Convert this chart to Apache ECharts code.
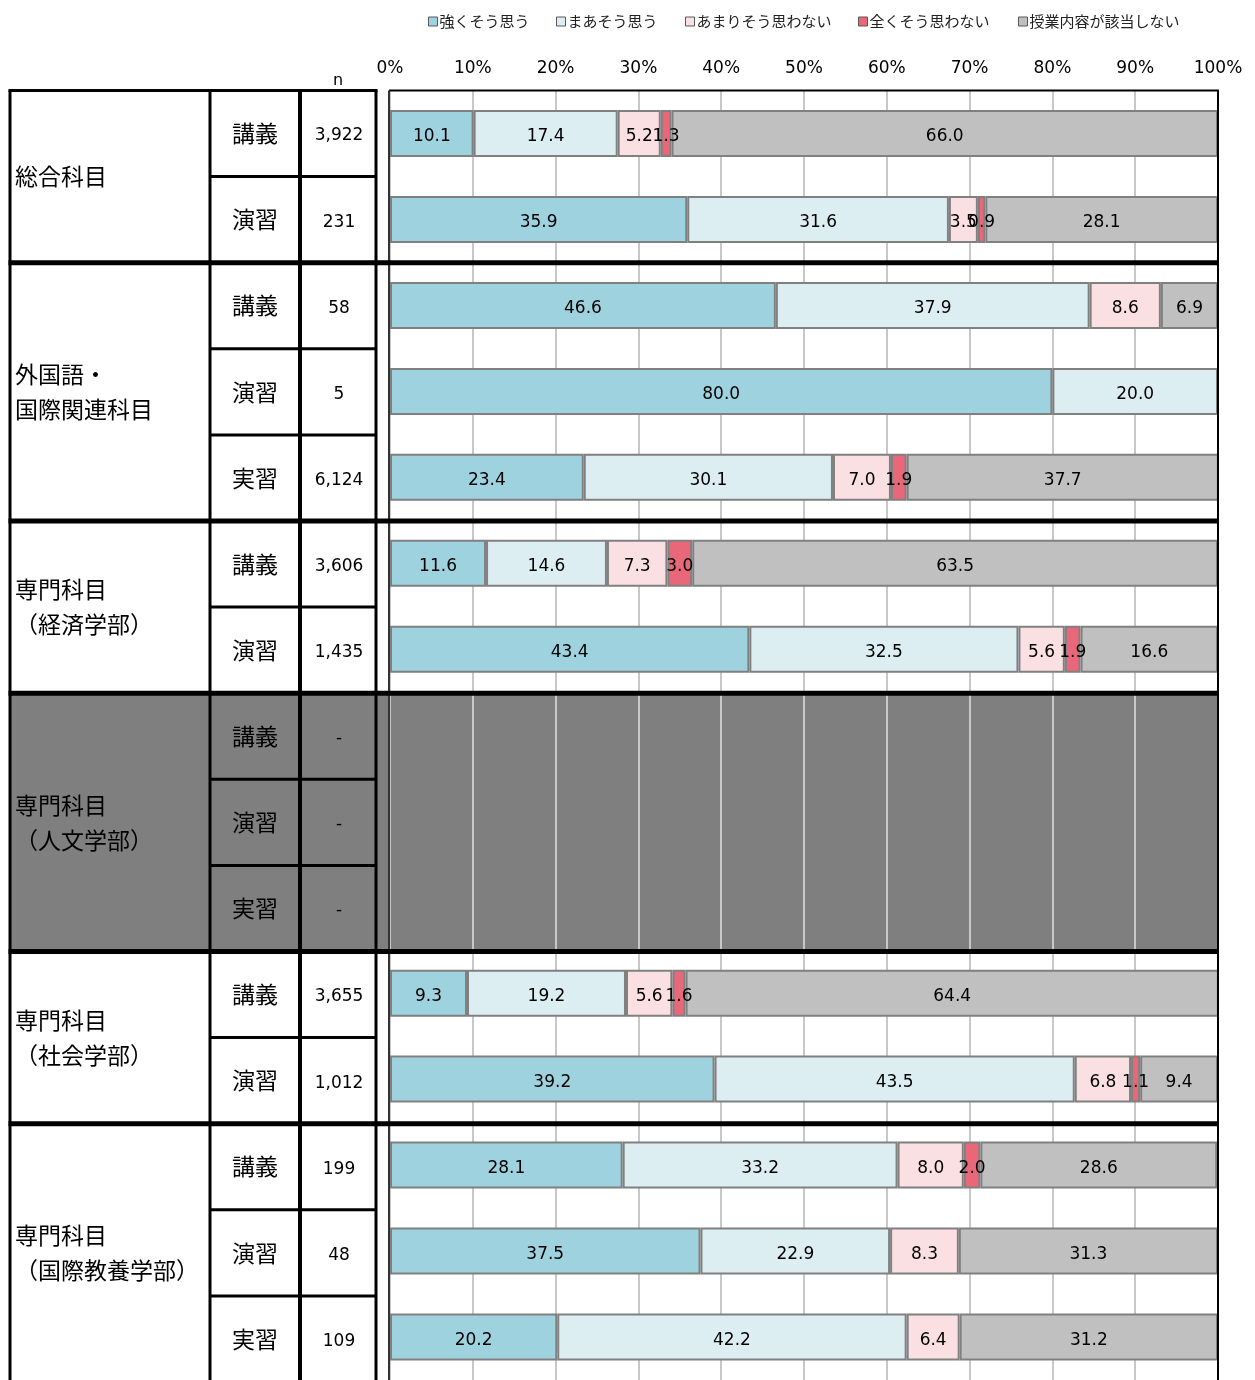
<!DOCTYPE html>
<html><head><meta charset="utf-8">
<script src="https://cdn.jsdelivr.net/npm/echarts@6/dist/echarts.min.js"></script>
<style>html,body{margin:0;padding:0;background:#fff}#c{width:1255px;height:1380px}</style>
</head><body><div id="c"></div>
<script>
// ---- data ----
const seriesNames = ['強くそう思う','まあそう思う','あまりそう思わない','全くそう思わない','授業内容が該当しない'];
const groupNames = ['総合科目','外国語・\n国際関連科目','専門科目\n（経済学部）','専門科目\n（人文学部）','専門科目\n（社会学部）','専門科目\n（国際教養学部）'];
const groupSizes = [2,3,2,3,2,3];
const groupNoData = [false,false,false,true,false,false];
const types = ['講義','演習','講義','演習','実習','講義','演習','講義','演習','実習','講義','演習','講義','演習','実習'];
const nValues = ['3,922','231','58','5','6,124','3,606','1,435','-','-','-','3,655','1,012','199','48','109'];
const strong   = [10.1,35.9,46.6,80.0,23.4,11.6,43.4,null,null,null, 9.3,39.2,28.1,37.5,20.2];
const mild     = [17.4,31.6,37.9,20.0,30.1,14.6,32.5,null,null,null,19.2,43.5,33.2,22.9,42.2];
const notMuch  = [ 5.2, 3.5, 8.6, 0.0, 7.0, 7.3, 5.6,null,null,null, 5.6, 6.8, 8.0, 8.3, 6.4];
const notAtAll = [ 1.3, 0.9, 0.0, 0.0, 1.9, 3.0, 1.9,null,null,null, 1.6, 1.1, 2.0, 0.0, 0.0];
const notApp   = [66.0,28.1, 6.9, 0.0,37.7,63.5,16.6,null,null,null,64.4, 9.4,28.6,31.3,31.2];
const xTicks = [0,10,20,30,40,50,60,70,80,90,100];

// ---- layout ----
const TOP = 90.5, ROW = 86.1;
const X0 = 10, X1 = 210, X2 = 300, X3 = 376, PL = 390, PR = 1218;
const colors = ['#9fd2df','#ddeef3','#fbe0e3','#e8687a','#c0c0c0'];
const cjk = '"Noto Sans CJK JP"';
const numFont = '"DejaVu Sans", "Noto Sans CJK JP"';
const nRows = types.length;
const BOTTOM = TOP + nRows * ROW;
const legendLefts = [423, 551, 680, 853, 1013];

const graphics = [];
let r0 = 0;
groupSizes.forEach((s, gi) => {
  if (groupNoData[gi]) {
    graphics.push({type:'rect', z:-5, shape:{x:X0, y:TOP + r0*ROW, width:PR-X0, height:s*ROW}, style:{fill:'#7f7f7f'}});
  }
  r0 += s;
});
function line(x1,y1,x2,y2,w,color){
  graphics.push({type:'line', z:50, shape:{x1,y1,x2,y2}, style:{stroke:color||'#000', lineWidth:w}});
}
function text(t,x,y,font,align,extra){
  graphics.push({type:'text', z:60, style:Object.assign({text:t, x, y, font, fill:'#000', align:align, verticalAlign:'middle', textAlign:align, textVerticalAlign:'middle'}, extra||{})});
}
line(X0, TOP, X0, BOTTOM, 3);
line(X1, TOP, X1, BOTTOM, 3);
line(X2, TOP, X2, BOTTOM, 4);
line(X3, TOP, X3, BOTTOM, 3);
line(X0-1.5, TOP, X3+1.5, TOP, 3);
line(PL-1, TOP, PR+1, TOP, 2);
line(PL-1, TOP, PL-1, BOTTOM, 2, '#333');
line(PR, TOP, PR, BOTTOM, 2);
let r = 0;
groupSizes.forEach((s, gi) => {
  const yStart = TOP + r*ROW;
  const yCenter = yStart + s*ROW/2;
  text(groupNames[gi], X0+5, yCenter, '23px ' + cjk, 'left', {lineHeight:35});
  for (let k = 1; k < s; k++) line(X1, yStart + k*ROW, X3, yStart + k*ROW, 3);
  r += s;
  if (r < nRows) line(X0-1.5, TOP + r*ROW, PR+1, TOP + r*ROW, 5);
});
types.forEach((t, i) => {
  const yc = TOP + i*ROW + ROW/2;
  text(t, (X1+X2)/2, yc, '23px ' + cjk, 'center');
  text(nValues[i], (X2+X3)/2 + 1, yc + 2.5, '17px ' + numFont, 'center');
});
text('n', (X2+X3)/2, 81, '16px ' + numFont, 'center');

const allData = [strong, mild, notMuch, notAtAll, notApp];
const series = seriesNames.map((name, si) => ({
  name, type:'bar', stack:'total', barWidth:47,
  itemStyle:{color:colors[si], borderColor:'#808080', borderWidth:2},
  label:{show:true, position:'inside', offset:[0,3.5], color:'#000', fontSize:17, fontFamily:numFont,
         formatter:p => (p.value == null ? '' : Number(p.value).toFixed(1))},
  data: allData[si].map(v => (v === 0 ? null : v))
}));

const legends = seriesNames.map((nm, i) => ({
  data:[nm], left:legendLefts[i], top:9, icon:'rect', itemWidth:9, itemHeight:9,
  itemStyle:{borderColor:'#595959', borderWidth:1},
  textStyle:{fontSize:15, fontFamily:cjk, color:'#222', padding:[0,0,0,-3]}
}));

const chart = echarts.init(document.getElementById('c'), null, {renderer:'canvas'});
chart.setOption({
  animation:false,
  textStyle:{fontFamily:numFont},
  legend:legends,
  grid:{left:PL, top:TOP, width:PR-PL, height:nRows*ROW, show:false, containLabel:false},
  xAxis:{type:'value', position:'top', min:xTicks[0], max:xTicks[xTicks.length-1], interval:10,
    axisLine:{show:false}, axisTick:{show:false},
    axisLabel:{formatter:'{value}%', fontSize:17, color:'#000', margin:13, fontFamily:numFont},
    splitLine:{show:true, lineStyle:{color:'#c8c8c8', width:2}}},
  yAxis:{type:'category', inverse:true, data:types.map((t,i)=>i+':'+t), show:false},
  series,
  graphic:{elements:graphics}
});
</script></body></html>
